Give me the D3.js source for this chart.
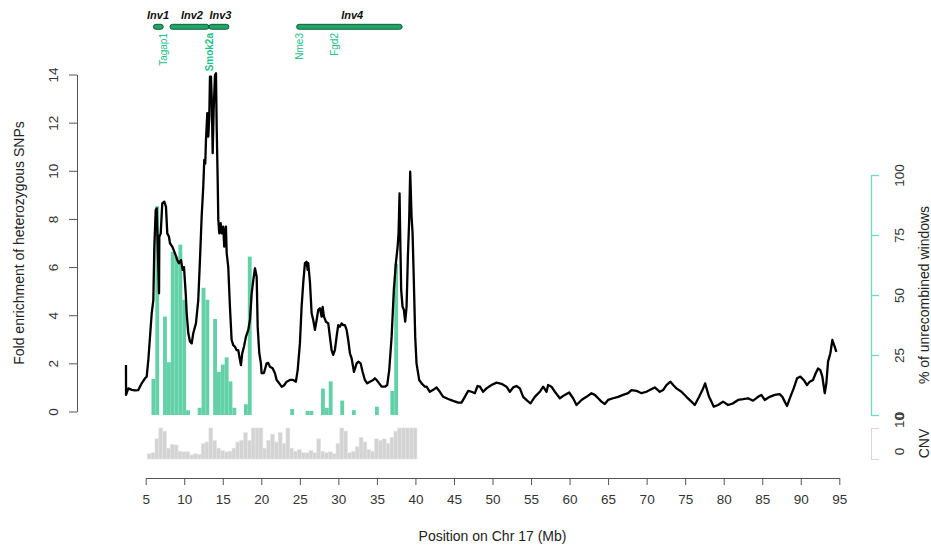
<!DOCTYPE html>
<html><head><meta charset="utf-8">
<script src="https://cdn.jsdelivr.net/npm/d3@7"></script>
<style>body{margin:0;background:#fff}svg{display:block;font-family:"Liberation Sans",Arial,Helvetica,sans-serif}</style>
</head><body><svg id="c" width="931" height="546"></svg>
<script>
// ---- data ----
const xTicks = [5,10,15,20,25,30,35,40,45,50,55,60,65,70,75,80,85,90,95];
const foldTicks = [0,2,4,6,8,10,12,14];
const pctTicks = [0,25,50,75,100];
const cnvTicks = [0,10];

// black line: position (Mb), fold enrichment
const snpPos = [2.44,2.45,2.74,3.2,3.6,4.04,4.48,4.91,5.13,5.34,5.78,5.99,6.12,6.30,6.43,6.56,6.73,6.77,6.95,7.15,7.41,7.63,7.80,8.02,8.15,8.45,8.80,9.10,9.32,9.58,9.80,9.97,10.19,10.32,10.53,10.75,10.97,11.17,11.52,11.82,12.04,12.26,12.47,12.60,12.73,12.82,12.99,13.12,13.25,13.34,13.47,13.56,13.69,13.82,13.99,14.12,14.21,14.34,14.42,14.55,14.73,14.86,15.06,15.19,15.41,15.51,15.71,15.93,16.15,16.36,16.58,16.80,17.01,17.23,17.36,17.53,17.75,18.01,18.31,18.53,18.75,18.96,19.18,19.40,19.53,19.74,19.95,20.04,20.34,20.69,20.90,21.12,21.47,21.77,21.99,22.33,22.64,22.94,23.29,23.72,24.14,24.49,24.72,25.01,25.23,25.44,25.66,25.88,26.01,26.09,26.31,26.53,26.74,26.96,27.18,27.39,27.61,27.83,27.96,28.13,28.39,28.69,28.90,29.12,29.33,29.55,29.77,29.98,30.20,30.42,30.63,30.85,31.07,31.28,31.50,31.72,32.02,32.37,32.58,32.89,33.14,33.44,33.74,34.09,34.52,34.74,34.96,35.30,35.61,36.04,36.34,36.60,36.91,37.20,37.46,37.69,37.81,37.94,38.02,38.15,38.33,38.50,38.67,38.85,39.02,39.19,39.32,39.50,39.63,39.80,39.97,40.14,40.49,40.80,41.23,41.44,41.87,42.31,42.74,43.17,43.60,44.25,44.90,45.55,45.98,46.41,46.85,47.28,47.71,48.06,48.36,48.79,49.22,49.87,50.52,51.17,51.82,52.25,52.68,53.11,53.55,53.98,54.50,54.93,55.49,56.14,56.57,57.01,57.22,57.65,58.09,58.74,59.38,59.95,60.46,60.90,61.55,62.19,62.84,63.27,63.71,64.14,64.57,65.00,65.65,66.30,66.95,67.60,68.03,68.68,69.33,69.98,70.41,71.06,71.71,72.14,72.57,73.09,73.44,73.87,74.52,75.16,75.81,76.25,76.81,77.24,77.59,77.84,78.10,78.41,78.71,79.27,79.92,80.57,81.22,81.87,82.51,83.16,83.81,84.46,84.89,85.32,85.97,86.62,87.27,87.61,87.92,88.22,88.65,89.08,89.52,89.95,90.38,90.81,91.16,91.59,91.94,92.24,92.54,92.80,93.11,93.32,93.54,93.84,94.10,94.40,94.62];
const snpFold = [1.93,0.69,0.96,0.9,0.88,0.89,1.17,1.38,1.45,2.14,4.08,4.63,6.85,8.37,8.44,6.85,4.91,7.26,7.40,8.65,8.72,8.51,7.40,7.26,6.99,6.85,6.57,6.29,6.16,6.29,5.88,6.0,4.91,4.08,3.25,2.90,2.83,3.25,3.66,4.63,6.29,8.09,9.34,10.45,10.3,11.28,12.39,11.42,12.25,13.91,13.91,13.08,10.73,12.53,13.98,14.05,11.83,9.62,7.96,7.40,7.82,7.40,7.68,6.85,7.68,6.57,6.02,4.35,2.97,2.76,2.69,2.55,2.55,2.14,1.93,2.42,2.69,3.11,3.39,3.80,4.91,5.46,5.95,5.60,3.52,2.42,2.0,1.59,1.6,2.0,2.02,1.86,1.8,1.59,1.31,1.17,1.03,1.08,1.24,1.31,1.31,1.24,1.72,2.83,4.35,5.33,6.16,6.22,5.88,6.16,5.39,4.08,3.80,3.39,3.80,4.22,4.29,3.94,4.35,3.94,3.73,3.66,3.11,2.55,2.35,2.55,3.11,3.59,3.52,3.66,3.59,3.59,3.39,2.97,2.42,2.21,1.65,2.0,2.07,2.0,1.65,1.31,1.17,1.24,1.31,1.38,1.31,1.17,1.03,1.03,1.10,1.72,3.11,5.05,6.16,6.85,7.40,9.06,7.40,5.05,4.35,4.22,3.73,4.35,6.43,7.96,9.96,8.09,7.40,5.33,3.11,2.0,1.31,1.17,1.03,1.03,0.82,0.9,1.0,0.82,0.61,0.52,0.44,0.37,0.37,0.61,0.86,0.82,0.76,1.06,1.03,0.82,0.96,1.10,1.20,1.15,1.03,0.82,1.0,1.06,0.96,0.61,0.45,0.34,0.61,0.82,1.03,0.82,1.10,1.03,0.82,0.55,0.69,0.79,0.55,0.27,0.48,0.61,0.76,0.69,0.55,0.41,0.31,0.48,0.55,0.61,0.69,0.76,0.89,0.86,0.76,0.82,0.89,1.0,0.82,0.89,1.10,1.24,1.10,0.96,0.82,0.61,0.41,0.27,0.61,0.89,1.17,0.89,0.61,0.41,0.20,0.27,0.41,0.27,0.34,0.48,0.51,0.55,0.45,0.61,0.69,0.48,0.61,0.69,0.72,0.61,0.41,0.23,0.61,0.96,1.38,1.45,1.31,1.10,1.24,1.31,1.59,1.79,1.72,1.45,0.76,1.17,2.07,2.42,2.97,2.69,2.48];

// green bars: % unrecombined windows, 0.5 Mb windows starting at 5.75 Mb
const pctStart = 5.75, pctWidth = 0.5;
const pctValues = [15,87,0,41,22,68,66,71,48,2,0,0,3,53,48,0,40,18,21,24,14,3,0,0,4.5,66,0,0,0,0,0,0,0,0,0,0,2.5,0,0,0,1.7,1.7,0,0,11,3,14,0,0,6,0,0,2,0,0,0,0,0,3.5,0,0,0,10,63];

// grey bars: CNV, 0.5 Mb windows starting at 5.2 Mb
const cnvStart = 5.2, cnvWidth = 0.5;
const cnvValues = [1.7,2,6.5,10,9,3.5,4.7,4.5,2.5,2.3,2.3,1.3,1.7,1.5,5,5.5,10,6,3.5,2.7,2.3,2.5,3.5,5.5,6,8.5,6,10,10,10,3.5,6,8,5.5,8.5,5,10,3.5,2.5,3,2,2,2.7,2,6.5,2.5,2,2.3,1.7,5,10,9,2,2.5,4,7,5.5,3,2.5,6.5,6,6.5,5,7,9,10,10,10,10,10];

// inversions and genes
const invNames = ["Inv1","Inv2","Inv3","Inv4"];
const invStart = [6.0,8.15,13.21,24.58];
const invEnd = [7.28,13.21,15.8,38.28];
const invLabelPos = [6.6,11.0,14.7,31.8];
const geneNames = ["Tagap1","Smok2a","Nme3","Fgd2"];
const genePos = [7.28,13.34,25.01,29.55];
const geneBold = [false,true,false,false];

// ---- drawing ----
const svg = d3.select("#c");
svg.append("rect").attr("width",931).attr("height",546).attr("fill","#fff");
const x = d3.scaleLinear().domain([5,95]).range([145.7,839.3]);
const yL = d3.scaleLinear().domain([0,14]).range([411.5,74.5]);
const yG = d3.scaleLinear().domain([0,100]).range([415,175]);
const yC = d3.scaleLinear().domain([0,10]).range([459,428]);

const green = "#63d1a8";
// CNV bars
svg.append("g").selectAll("rect").data(cnvValues).join("rect")
  .attr("x",(d,i)=>x(cnvStart+i*cnvWidth))
  .attr("width",(d,i)=>x(cnvStart+(i+1)*cnvWidth)-x(cnvStart+i*cnvWidth))
  .attr("y",d=>yC(d)).attr("height",d=>yC(0)-yC(d))
  .attr("fill","#d3d3d3").attr("stroke","#e4e4e4").attr("stroke-width",0.6);

// green bars
svg.append("g").selectAll("rect").data(pctValues.map((v,i)=>({v,i})).filter(d=>d.v>0)).join("rect")
  .attr("x",d=>x(pctStart+d.i*pctWidth))
  .attr("width",d=>x(pctStart+(d.i+1)*pctWidth)-x(pctStart+d.i*pctWidth))
  .attr("y",d=>yG(d.v)).attr("height",d=>yG(0)-yG(d.v))
  .attr("fill",green);

// black line
const line = d3.line().x(d=>x(d[0])).y(d=>yL(d[1]));
svg.append("path").datum(snpPos.map((p,i)=>[p,snpFold[i]]))
  .attr("d",line).attr("fill","none").attr("stroke","#000")
  .attr("stroke-width",2.3).attr("stroke-linejoin","round");

const tickFont = "13.5px";
// bottom axis
const ax = svg.append("g").attr("transform","translate(0,478)")
  .call(d3.axisBottom(x).tickValues(xTicks).tickSize(7).tickSizeOuter(0).tickPadding(9));
ax.select(".domain").attr("stroke","#555");
ax.selectAll(".tick line").attr("stroke","#555");
ax.selectAll("text").attr("font-size",tickFont).attr("fill","#333");

// left axis
const al = svg.append("g").attr("transform","translate(77,0)")
  .call(d3.axisLeft(yL).tickValues(foldTicks).tickSize(8).tickSizeOuter(0));
al.select(".domain").attr("stroke","#555");
al.selectAll(".tick line").attr("stroke","#555");
al.selectAll(".tick text").attr("font-size",tickFont).attr("fill","#333")
  .attr("text-anchor","middle").attr("x",0).attr("dy",0)
  .attr("transform","translate(-24,0) rotate(-90)").attr("dominant-baseline","central");

// right green axis
const ag = svg.append("g").attr("transform","translate(871,0)")
  .call(d3.axisRight(yG).tickValues(pctTicks).tickSize(8).tickSizeOuter(0));
ag.select(".domain").attr("stroke","#6fdcb6").attr("stroke-width",1.3);
ag.selectAll(".tick line").attr("stroke","#6fdcb6").attr("stroke-width",1.3);
ag.selectAll(".tick text").attr("font-size",tickFont).attr("fill","#333")
  .attr("text-anchor","middle").attr("x",0).attr("dy",0)
  .attr("transform","translate(28,0) rotate(-90)").attr("dominant-baseline","central");

// CNV axis
const ac = svg.append("g").attr("transform","translate(871,0)")
  .call(d3.axisRight(yC).tickValues(cnvTicks).tickSize(8).tickSizeOuter(0));
ac.select(".domain").attr("stroke","#d8d8d8");
ac.selectAll(".tick line").attr("stroke","#d8d8d8");
ac.selectAll(".tick text").attr("font-size",tickFont).attr("fill","#333")
  .attr("text-anchor","middle").attr("x",0).attr("dy",0)
  .attr("transform","translate(28,-8) rotate(-90)").attr("dominant-baseline","central");

// titles
svg.append("text").attr("x",(x(5)+x(95))/2).attr("y",541).attr("text-anchor","middle")
  .attr("font-size","14px").attr("fill","#222").text("Position on Chr 17 (Mb)");
svg.append("text").attr("transform","translate(19,"+((yL(0)+yL(14))/2)+") rotate(-90)")
  .attr("text-anchor","middle").attr("dominant-baseline","central")
  .attr("font-size","14px").attr("fill","#222").text("Fold enrichment of heterozygous SNPs");
svg.append("text").attr("transform","translate(924,"+((yG(0)+yG(100))/2)+") rotate(-90)")
  .attr("text-anchor","middle").attr("dominant-baseline","central")
  .attr("font-size","14px").attr("fill","#222").text("% of unrecombined windows");
svg.append("text").attr("transform","translate(924,"+((yC(0)+yC(10))/2)+") rotate(-90)")
  .attr("text-anchor","middle").attr("dominant-baseline","central")
  .attr("font-size","14px").attr("fill","#222").text("CNV");

// inversions
const inv = svg.append("g");
invNames.forEach((n,i)=>{
  inv.append("rect").attr("x",x(invStart[i])).attr("y",24.3)
    .attr("width",x(invEnd[i])-x(invStart[i])).attr("height",5).attr("rx",2.5)
    .attr("fill","#1aa865").attr("stroke","#0e3b28").attr("stroke-width",0.8);
  inv.append("text").attr("x",x(invLabelPos[i])).attr("y",19).attr("text-anchor","middle")
    .attr("font-size","11px").attr("font-weight","bold").attr("font-style","italic")
    .attr("fill","#111").text(n);
});
geneNames.forEach((g,i)=>{
  svg.append("text").attr("transform","translate("+x(genePos[i])+",33) rotate(-90)")
    .attr("text-anchor","end").attr("dominant-baseline","central")
    .attr("font-size","10px").attr("font-weight",geneBold[i]?"bold":"normal")
    .attr("fill","#22c08a").text(g);
});
</script></body></html>
